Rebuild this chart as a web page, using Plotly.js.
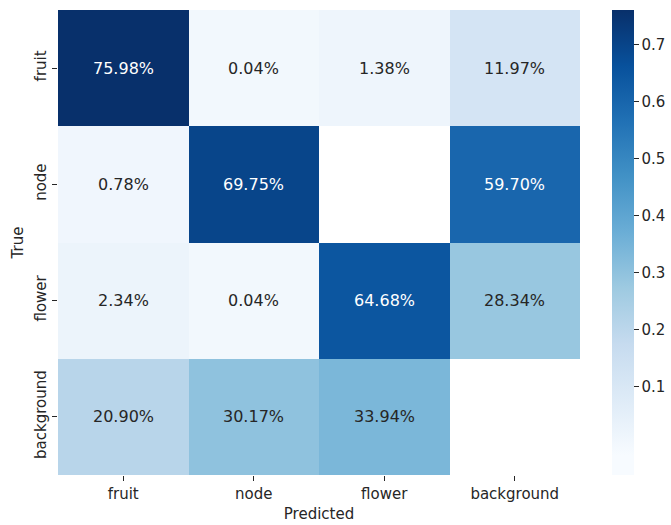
<!DOCTYPE html>
<html>
<head>
<meta charset="utf-8">
<script src="https://cdn.plot.ly/plotly-3.0.1.min.js"></script>
<style>
  html, body { margin: 0; padding: 0; background: #fff; }
  #chart { width: 671px; height: 525px; }
</style>
</head>
<body>
<div id="chart"></div>
<script>
// Data
const predictedLabels = ["fruit", "node", "flower", "background"];
const trueLabels = ["fruit", "node", "flower", "background"];
const rowFruit      = [0.7598, 0.0004, 0.0138, 0.1197];
const rowNode       = [0.0078, 0.6975, null,   0.5970];
const rowFlower     = [0.0234, 0.0004, 0.6468, 0.2834];
const rowBackground = [0.2090, 0.3017, 0.3394, null];
const colorbarTicks = [0.1, 0.2, 0.3, 0.4, 0.5, 0.6, 0.7];

const z = [rowFruit, rowNode, rowFlower, rowBackground];

// matplotlib "Blues"
const bluesHex = ["#f7fbff", "#deebf7", "#c6dbef", "#9ecae1", "#6baed6",
                  "#4292c6", "#2171b5", "#08519c", "#08306b"];
const cmin = -0.02, cmax = 0.76;      // colour normalisation of the cells
const zmin = -0.055, zmax = 0.761;    // extent of the colour bar

// colour scale so that cells get Blues((v-cmin)/(cmax-cmin)) while bar spans zmin..zmax
const colorscale = [[0, bluesHex[0]]];
bluesHex.forEach((c, k) => {
  const v = cmin + (k / 8) * (cmax - cmin);
  const f = Math.min(1, (v - zmin) / (zmax - zmin));
  colorscale.push([f, c]);
});
if (colorscale[colorscale.length - 1][0] < 1) colorscale.push([1, bluesHex[8]]);

function h2r(h) { return [1, 3, 5].map(k => parseInt(h.substr(k, 2), 16) / 255); }
function lum(v) {
  const t = Math.min(1, Math.max(0, (v - cmin) / (cmax - cmin))) * 8;
  const i = Math.min(7, Math.floor(t));
  const f = t - i;
  const a = h2r(bluesHex[i]), b = h2r(bluesHex[i + 1]);
  const c = a.map((x, k) => x + (b[k] - x) * f);
  const lin = c.map(x => x <= 0.03928 ? x / 12.92 : Math.pow((x + 0.055) / 1.055, 2.4));
  return 0.2126 * lin[0] + 0.7152 * lin[1] + 0.0722 * lin[2];
}

const annotations = [];
z.forEach((row, i) => {
  row.forEach((v, j) => {
    if (v === null) return;
    annotations.push({
      x: predictedLabels[j], y: trueLabels[i], xref: "x", yref: "y",
      text: (v * 100).toFixed(2) + "%", showarrow: false,
      font: { family: "DejaVu Sans", size: 16, color: lum(v) < 0.408 ? "#ffffff" : "#262626" }
    });
  });
});

const trace = {
  type: "heatmap",
  x: predictedLabels,
  y: trueLabels,
  z: z,
  zmin: zmin, zmax: zmax,
  colorscale: colorscale,
  xgap: 0, ygap: 0,
  hoverongaps: false,
  colorbar: {
    x: 1.061, xanchor: "left", xref: "paper",
    y: 0, yanchor: "bottom", len: 1, lenmode: "fraction",
    thickness: 22, thicknessmode: "pixels",
    outlinewidth: 0, xpad: 0, ypad: 0,
    tickvals: colorbarTicks,
    ticks: "outside", ticklen: 5, tickwidth: 1, tickcolor: "#262626",
    tickfont: { family: "DejaVu Sans", size: 15, color: "#262626" }
  }
};

const layout = {
  width: 671, height: 525,
  margin: { l: 58, r: 91, t: 10, b: 50, autoexpand: false },
  paper_bgcolor: "#ffffff",
  plot_bgcolor: "#ffffff",
  font: { family: "DejaVu Sans", color: "#262626" },
  xaxis: {
    type: "category",
    title: { text: "Predicted", font: { family: "DejaVu Sans", size: 15, color: "#262626" }, standoff: 6 },
    tickfont: { family: "DejaVu Sans", size: 15, color: "#262626" },
    ticks: "outside", ticklen: 5, tickcolor: "#262626",
    showgrid: false, zeroline: false, showline: false
  },
  yaxis: {
    type: "category",
    autorange: "reversed",
    title: { text: "True", font: { family: "DejaVu Sans", size: 15, color: "#262626" }, standoff: 4 },
    tickfont: { family: "DejaVu Sans", size: 15, color: "#262626" },
    tickangle: -90,
    ticks: "outside", ticklen: 5, tickcolor: "#262626",
    showgrid: false, zeroline: false, showline: false
  },
  annotations: annotations
};

Plotly.newPlot("chart", [trace], layout, { displayModeBar: false, staticPlot: true });
</script>
</body>
</html>
